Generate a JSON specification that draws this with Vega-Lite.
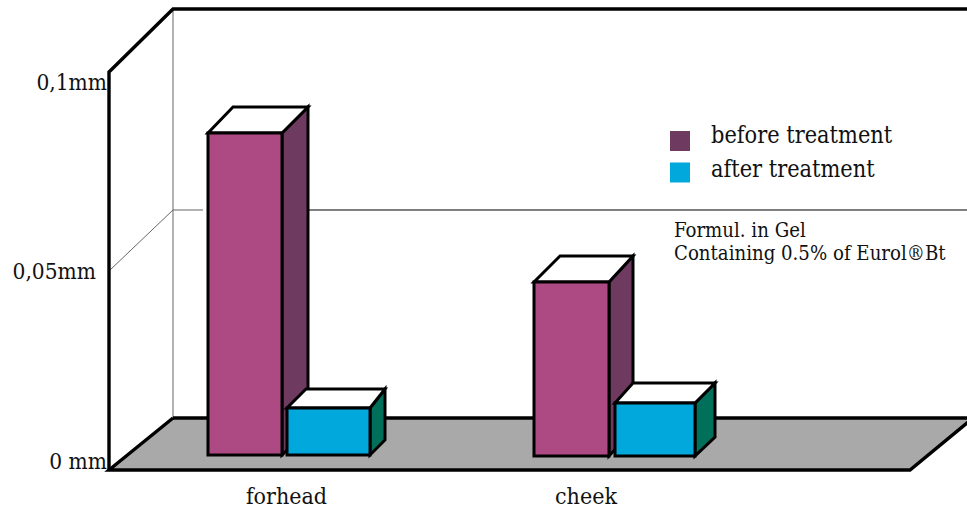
{"$schema":"https://vega.github.io/schema/vega-lite/v6.json","width":967,"height":510,"padding":0,"autosize":"none","background":"white","config":{"view":{"stroke":null}},
"encoding":{"x":{"field":"x","type":"quantitative","scale":{"domain":[0,967],"nice":false,"zero":false},"axis":null},"y":{"field":"mm","type":"quantitative","scale":{"domain":[-0.01005,0.11809],"nice":false,"zero":false},"axis":null}},
"layer":[
{"data":{"values":[{"x":109,"mm":0,"x2":910},{"x":173,"mm":0.01307,"x2":973}]},"mark":{"type":"area","orient":"horizontal","color":"#a9a9a9","clip":true},"encoding":{"x2":{"field":"x2"}}},
{"data":{"values":[{"seg":"back","i":1,"x":173,"mm":0.11583},{"seg":"back","i":2,"x":173,"mm":0.01307},{"seg":"gridl","i":1,"x":109,"mm":0.05},{"seg":"gridl","i":2,"x":173,"mm":0.06533},{"seg":"gridl","i":3,"x":203,"mm":0.06533}]},"mark":{"type":"line","color":"#666666","strokeWidth":1},"encoding":{"detail":{"field":"seg"},"order":{"field":"i"}}},
{"data":{"values":[{"seg":"gridr","i":1,"x":300,"mm":0.06533},{"seg":"gridr","i":2,"x":967,"mm":0.06533}]},"mark":{"type":"line","color":"#000000","strokeWidth":1},"encoding":{"detail":{"field":"seg"},"order":{"field":"i"}}},
{"data":{"values":[{"seg":"wall","i":1,"x":109,"mm":0},{"seg":"wall","i":2,"x":109,"mm":0.1},{"seg":"wall","i":3,"x":173,"mm":0.11583},{"seg":"wall","i":4,"x":967,"mm":0.11583},{"seg":"floor","i":1,"x":173,"mm":0.01307},{"seg":"floor","i":2,"x":109,"mm":0},{"seg":"floor","i":3,"x":910,"mm":0},{"seg":"floor","i":4,"x":973,"mm":0.01307},{"seg":"floorback","i":1,"x":173,"mm":0.01307},{"seg":"floorback","i":2,"x":967,"mm":0.01307}]},"mark":{"type":"line","color":"black","strokeWidth":3.4,"clip":true},"encoding":{"detail":{"field":"seg"},"order":{"field":"i"}}},
{"data":{"values":[
{"bar":"forehead before","series":"before treatment","x":282,"mm":0.08467,"y2":0.00377},{"bar":"forehead before","series":"before treatment","x":308,"mm":0.09121,"y2":0.01005},
{"bar":"forehead after","series":"after treatment","x":370,"mm":0.01558,"y2":0.00377},{"bar":"forehead after","series":"after treatment","x":385,"mm":0.02035,"y2":0.00754},
{"bar":"cheek before","series":"before treatment","x":609,"mm":0.04724,"y2":0.00352},{"bar":"cheek before","series":"before treatment","x":633,"mm":0.05377,"y2":0.01005},
{"bar":"cheek after","series":"after treatment","x":695,"mm":0.01683,"y2":0.00352},{"bar":"cheek after","series":"after treatment","x":715,"mm":0.02186,"y2":0.00829}]},
"mark":{"type":"area","stroke":"black","strokeWidth":3,"strokeJoin":"miter"},"encoding":{"y2":{"field":"y2"},"detail":{"field":"bar"},"color":{"field":"series","type":"nominal","legend":null,"scale":{"domain":["before treatment","after treatment"],"range":["#6f3a5f","#00705a"]}}}},
{"data":{"values":[
{"bar":"forehead before","x":208,"x2":282,"mm":0.08467},{"bar":"forehead before","x":233,"x2":308,"mm":0.09121},
{"bar":"forehead after","x":287,"x2":370,"mm":0.01558},{"bar":"forehead after","x":306,"x2":385,"mm":0.02035},
{"bar":"cheek before","x":534,"x2":609,"mm":0.04724},{"bar":"cheek before","x":560,"x2":633,"mm":0.05377},
{"bar":"cheek after","x":615,"x2":695,"mm":0.01683},{"bar":"cheek after","x":633,"x2":715,"mm":0.02186}]},
"mark":{"type":"area","orient":"horizontal","color":"white","stroke":"black","strokeWidth":3},"encoding":{"x2":{"field":"x2"},"detail":{"field":"bar"}}},
{"data":{"values":[
{"category":"forehead","series":"before treatment","x":208,"x2":282,"mm":0.08467,"y2":0.00377},
{"category":"forehead","series":"after treatment","x":287,"x2":370,"mm":0.01558,"y2":0.00377},
{"category":"cheek","series":"before treatment","x":534,"x2":609,"mm":0.04724,"y2":0.00352},
{"category":"cheek","series":"after treatment","x":615,"x2":695,"mm":0.01683,"y2":0.00352}]},
"mark":{"type":"rect","stroke":"black","strokeWidth":3},"encoding":{"x2":{"field":"x2"},"y2":{"field":"y2"},"color":{"field":"series","type":"nominal","legend":null,"scale":{"domain":["before treatment","after treatment"],"range":["#ad4a84","#00a8dc"]}}}},
{"data":{"values":[{"series":"before treatment","x":680,"mm":0.08266},{"series":"after treatment","x":680,"mm":0.07475}]},
"mark":{"type":"point","shape":"square","filled":true,"size":400,"opacity":1},"encoding":{"color":{"field":"series","type":"nominal","legend":null,"scale":{"domain":["before treatment","after treatment"],"range":["#6f3a5f","#00a8dc"]}}}},
{"data":{"values":[{"label":"before treatment","x":711,"mm":0.08392},{"label":"after treatment","x":711,"mm":0.07538}]},"mark":{"type":"text","align":"left","baseline":"middle","font":"DejaVu Serif Condensed","fontSize":23.3,"color":"#111111"},"encoding":{"text":{"field":"label"}}},
{"data":{"values":[{"label":"Formul. in Gel","x":674,"mm":0.06005},{"label":"Containing 0.5% of Eurol®Bt","x":674,"mm":0.05427}]},"mark":{"type":"text","align":"left","baseline":"middle","font":"DejaVu Serif Condensed","fontSize":20.2,"color":"#111111"},"encoding":{"text":{"field":"label"}}},
{"data":{"values":[{"label":"0,1mm","x":107,"mm":0.09724},{"label":"0,05mm","x":96,"mm":0.04975},{"label":"0 mm","x":107,"mm":0.00201}]},"mark":{"type":"text","align":"right","baseline":"middle","font":"DejaVu Serif Condensed","fontSize":22.5,"color":"#111111"},"encoding":{"text":{"field":"label"}}},
{"data":{"values":[{"label":"forhead","x":286.5,"mm":-0.00678},{"label":"cheek","x":586,"mm":-0.00678}]},"mark":{"type":"text","align":"center","baseline":"middle","font":"DejaVu Serif Condensed","fontSize":23,"color":"#111111"},"encoding":{"text":{"field":"label"}}}
],
"resolve":{"scale":{"color":"independent"}}}
